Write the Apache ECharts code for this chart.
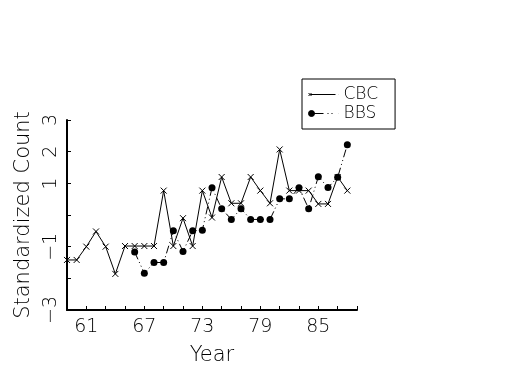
<!DOCTYPE html>
<html>
<head>
<meta charset="utf-8">
<script src="https://cdn.jsdelivr.net/npm/echarts@6/dist/echarts.min.js"></script>
<style>html,body{margin:0;padding:0;background:#fff}#c{width:525px;height:375px}</style>
</head>
<body>
<div id="c"></div>
<script>
// Data
var cbcYears = [59,60,61,62,63,64,65,66,67,68,69,70,71,72,73,74,75,76,77,78,79,80,81,82,83,84,85,86,87,88];
var cbcValues = [-1.42,-1.42,-1.0,-0.52,-1.0,-1.86,-0.98,-0.98,-0.98,-0.98,0.77,-0.98,-0.1,-0.98,0.77,-0.08,1.2,0.37,0.37,1.2,0.77,0.37,2.07,0.77,0.77,0.77,0.35,0.35,1.2,0.77];
var bbsYears = [66,67,68,69,70,71,72,73,74,75,76,77,78,79,80,81,82,83,84,85,86,87,88];
var bbsValues = [-1.17,-1.84,-1.5,-1.5,-0.5,-1.15,-0.5,-0.48,0.86,0.2,-0.14,0.2,-0.14,-0.14,-0.14,0.51,0.51,0.86,0.2,1.21,0.87,1.19,2.22];
var xTickLabels = [61,67,73,79,85];
var yTickLabels = [3,2,1,-1,-3];

var FONT = 'DejaVu Sans';
function pairs(xs, ys){ return xs.map(function(x,i){ return [x, ys[i]]; }); }

var chart = echarts.init(document.getElementById('c'), null, {renderer:'canvas'});
chart.setOption({
  animation:false,
  backgroundColor:'#fff',
  grid:{left:67, right:168, top:120, bottom:65, containLabel:false},
  legend:{
    orient:'vertical', left:302, top:79,
    borderColor:'#000', borderWidth:1, borderRadius:0,
    padding:[7,17,7,6], itemGap:2, itemWidth:30, itemHeight:6, itemTextGap:9,
    textStyle:{fontFamily:FONT, fontSize:17, fontWeight:200, color:'#000'},
    data:[
      {name:'CBC', icon:'path://M0,1.5L3,4.5M3,1.5L0,4.5M2,3L27,3M29.9,3L30,3',
       itemStyle:{color:'#000', borderColor:'#000', borderWidth:1}},
      {name:'BBS', icon:'path://M0,3A3,3 0 1 1 6,3A3,3 0 1 1 0,3ZM3,3L15,3M19,3L20,3M23,3L24,3M29.9,3L30,3',
       itemStyle:{color:'#000', borderColor:'#000', borderWidth:1}}
    ]
  },
  xAxis:{
    type:'value', min:59, max:89, interval:2,
    name:'Year', nameLocation:'middle', nameGap:35,
    nameTextStyle:{fontFamily:FONT, fontSize:21, fontWeight:200, color:'#000'},
    axisLine:{onZero:false, lineStyle:{color:'#000', width:2}},
    axisTick:{inside:true, length:4, lineStyle:{color:'#000', width:1}},
    splitLine:{show:false},
    axisLabel:{margin:8, fontFamily:FONT, fontSize:19, fontWeight:200, color:'#000',
      formatter:function(v){ return xTickLabels.indexOf(v) >= 0 ? String(v) : ''; }}
  },
  yAxis:{
    type:'value', min:-3, max:3, interval:1,
    name:'Standardized Count', nameLocation:'middle', nameGap:30, nameRotate:90,
    nameTextStyle:{fontFamily:FONT, fontSize:21, fontWeight:200, color:'#000'},
    axisLine:{show:true, lineStyle:{color:'#000', width:2}},
    axisTick:{show:true, inside:true, length:4, lineStyle:{color:'#000', width:1}},
    splitLine:{show:false},
    axisLabel:{margin:6, rotate:90, fontFamily:FONT, fontSize:19, fontWeight:200, color:'#000',
      formatter:function(v){ return yTickLabels.indexOf(v) >= 0 ? String(v).replace('-', '\u2212') : ''; }}
  },
  series:[
    {name:'BBS', type:'line', data:pairs(bbsYears, bbsValues),
     symbol:'circle', symbolSize:7, color:'#000',
     itemStyle:{color:'#000', borderWidth:0},
     lineStyle:{color:'#000', width:1, type:[8,3,1,3,1,3]}, z:2},
    {name:'CBC', type:'line', data:pairs(cbcYears, cbcValues),
     symbol:'path://M0,0L10,10M10,0L0,10', symbolSize:6, color:'#000',
     itemStyle:{color:'#000', borderColor:'#000', borderWidth:1},
     lineStyle:{color:'#000', width:1, type:'solid'}, z:3}
  ]
});
</script>
</body>
</html>
